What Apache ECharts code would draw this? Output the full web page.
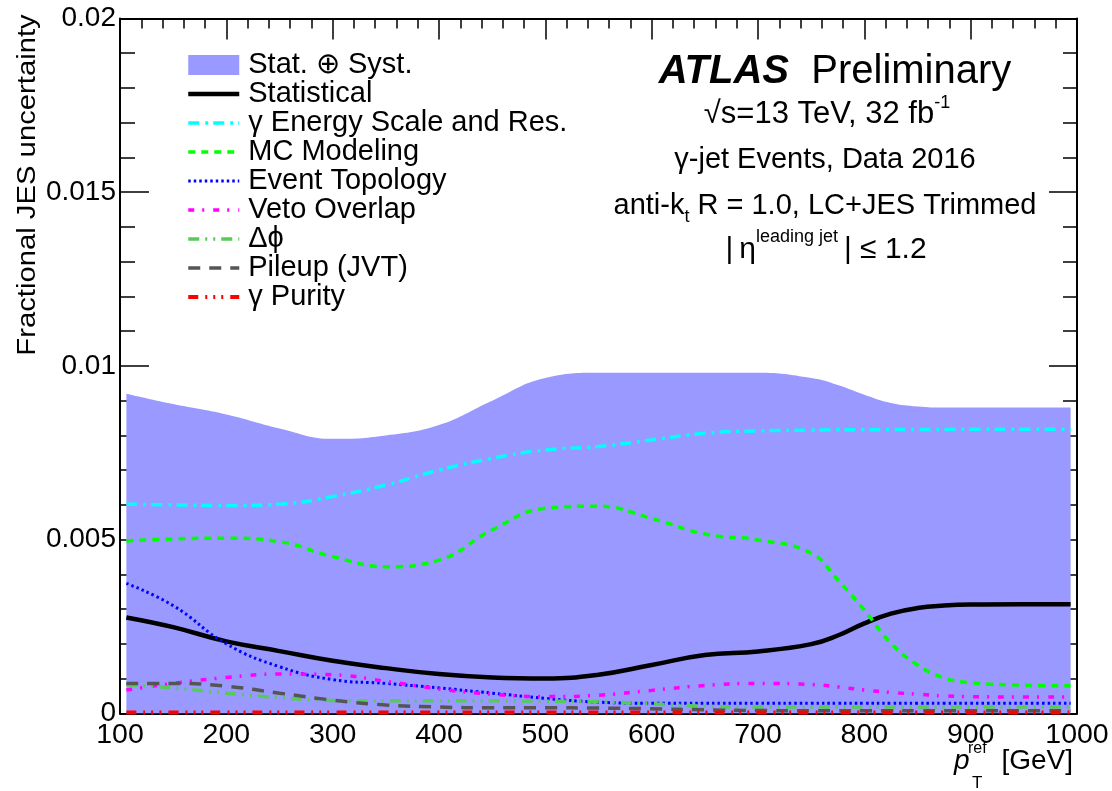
<!DOCTYPE html>
<html><head><meta charset="utf-8">
<script src="https://cdn.jsdelivr.net/npm/echarts@6/dist/echarts.min.js"></script>
<style>html,body{margin:0;padding:0;background:#fff}#c{width:1112px;height:791px}</style>
</head><body><div id="c"></div>
<script>
// ---- data ----
const ptRef = [106,150,200,250,300,350,400,450,500,550,600,650,700,750,775,800,825,850,875,900,950,994];
const statSyst = [0.0092,0.0089,0.0086,0.0082,0.0079,0.0080,0.0083,0.0090,0.00965,0.0098,0.0098,0.0098,0.0098,0.00965,0.00945,0.00917,0.00893,0.00883,0.0088,0.0088,0.0088,0.0088];
const statistical = [0.00276,0.00248,0.00207,0.00179,0.00151,0.0013,0.00113,0.00103,0.001,0.00111,0.00139,0.00168,0.00178,0.00199,0.00224,0.00259,0.00287,0.00303,0.0031,0.00313,0.00314,0.00314];
const gammaEnergy = [0.00602,0.006,0.00598,0.00602,0.00624,0.00657,0.007,0.00734,0.00758,0.00768,0.00787,0.00806,0.00813,0.00815,0.00816,0.00816,0.00817,0.00817,0.00817,0.00818,0.00818,0.00818];
const mcModeling = [0.00496,0.00502,0.00504,0.00494,0.00451,0.00422,0.00441,0.00528,0.0059,0.00596,0.00561,0.00516,0.00499,0.00461,0.00384,0.00297,0.00202,0.00139,0.00102,0.00088,0.00081,0.00079];
const eventTopology = [0.00374,0.0031,0.002,0.00134,0.00097,0.00086,0.00073,0.00058,0.00043,0.00032,0.00029,0.00029,0.00029,0.00029,0.00029,0.00029,0.00029,0.00029,0.00029,0.00029,0.00029,0.00029];
const vetoOverlap = [0.00067,0.00086,0.00103,0.00113,0.00111,0.00092,0.0007,0.00055,0.00048,0.00052,0.00066,0.0008,0.00086,0.00083,0.00076,0.00067,0.0006,0.00055,0.0005,0.00048,0.00047,0.00047];
const deltaPhi = [0.00082,0.00073,0.00058,0.00045,0.00037,0.00036,0.00036,0.00036,0.00035,0.00033,0.00027,0.0002,0.00018,0.00018,0.00018,0.00018,0.00018,0.00018,0.00018,0.00018,0.00018,0.00018];
const pileup = [0.00086,0.00086,0.00078,0.00058,0.00038,0.00024,0.00018,0.00016,0.00016,0.00015,0.00013,0.0001,0.00008,0.00007,0.00007,0.00007,0.00007,0.00007,0.00007,0.00007,0.00007,0.00007];
const gammaPurity = [0.00002,0.00002,0.00002,0.00002,0.00002,0.00002,0.00002,0.00002,0.00002,0.00002,0.00002,0.00002,0.00002,0.00002,0.00002,0.00002,0.00002,0.00002,0.00002,0.00002,0.00002,0.00002];
const xTickValues = [100,200,300,400,500,600,700,800,900,1000];
const yTickLabels = ['0','0.005','0.01','0.015','0.02'];

const bandName = 'Stat. \u2295 Syst.';
const lineDefs = [
  {name:'Statistical', data:statistical, color:'#000000', width:4.5, type:'solid'},
  {name:'\u03b3 Energy Scale and Res.', data:gammaEnergy, color:'#00ffff', width:3.5, type:[11,6,3,5]},
  {name:'MC Modeling', data:mcModeling, color:'#00ff00', width:3.5, type:[7,6]},
  {name:'Event Topology', data:eventTopology, color:'#0000ff', width:3, type:[2.5,3]},
  {name:'Veto Overlap', data:vetoOverlap, color:'#ff00ff', width:3.5, type:[6,8,2,9]},
  {name:'\u0394\u03d5', data:deltaPhi, color:'#55cc55', width:3.5, type:[11,6,2,6,2,6]},
  {name:'Pileup (JVT)', data:pileup, color:'#555555', width:3.5, type:[12,9]},
  {name:'\u03b3 Purity', data:gammaPurity, color:'#ff0000', width:4, type:[10,7,2,6,2,6,2,7]}
];
const pairs = arr => ptRef.map((x,i)=>[x, arr[i]]);
const FONT = 'Liberation Sans, Arial, Helvetica, sans-serif';
const SMOOTH = 0.45;

const series = [{
  name: bandName, type:'line', data: pairs(statSyst), smooth:SMOOTH,
  symbol:'none', lineStyle:{width:0}, areaStyle:{color:'#9999ff', opacity:1}, itemStyle:{color:'#9999ff'},
  z:1, silent:true, clip:false
}].concat(lineDefs.map((d,i)=>({
  name:d.name, type:'line', data:pairs(d.data), smooth:SMOOTH, symbol:'none',
  lineStyle:{color:d.color, width:d.width, type:d.type, cap:'butt'}, itemStyle:{color:d.color},
  z:2+i, silent:true, clip:false
})));

const axisCommon = {
  axisLine:{show:true, onZero:false, lineStyle:{color:'#000', width:2}},
  splitLine:{show:false},
  minorSplitLine:{show:false}
};

const chart = echarts.init(document.getElementById('c'), null, {renderer:'canvas'});
chart.setOption({
  animation:false,
  backgroundColor:'#fff',
  grid:{left:120, right:35, top:18.5, bottom:77.7, containLabel:false},
  xAxis:[
    Object.assign({type:'value', min:100, max:1000, interval:100, position:'bottom',
      axisTick:{inside:true, length:20, lineStyle:{color:'#000', width:1.5}},
      minorTick:{show:true, splitNumber:5, length:10, lineStyle:{color:'#000', width:1.5}},
      axisLabel:{color:'#000', fontSize:28.5, fontFamily:FONT, margin:7,
        formatter: v => xTickValues.indexOf(v) >= 0 ? String(v) : ''}}, axisCommon),
    Object.assign({type:'value', min:100, max:1000, interval:100, position:'top',
      axisTick:{inside:true, length:21, lineStyle:{color:'#000', width:1.5}},
      minorTick:{show:true, splitNumber:5, length:10, lineStyle:{color:'#000', width:1.5}},
      axisLabel:{show:false}}, axisCommon)
  ],
  yAxis:[
    Object.assign({type:'value', min:0, max:0.02, interval:0.005, position:'left',
      axisTick:{inside:true, length:29, lineStyle:{color:'#000', width:1.5}},
      minorTick:{show:true, splitNumber:5, length:15, lineStyle:{color:'#000', width:1.5}},
      axisLabel:{color:'#000', fontSize:28, fontFamily:FONT, margin:4,
        formatter: v => yTickLabels[Math.round(v/0.005)] || ''}}, axisCommon),
    Object.assign({type:'value', min:0, max:0.02, interval:0.005, position:'right',
      axisTick:{inside:true, length:28, lineStyle:{color:'#000', width:1.5}},
      minorTick:{show:true, splitNumber:5, length:14, lineStyle:{color:'#000', width:1.5}},
      axisLabel:{show:false}}, axisCommon)
  ],
  legend:{
    orient:'vertical', left:186, top:50.5, padding:0, itemWidth:51, itemHeight:20, itemGap:0,
    selectedMode:false,
    textStyle:{color:'#000', fontSize:29, fontFamily:FONT, lineHeight:29, padding:[0,0,0,4]},
    data:[{name:bandName, icon:'rect', itemStyle:{color:'#9999ff'}}].concat(lineDefs.map(d=>({
      name:d.name, itemStyle:{opacity:0},
      lineStyle:{color:d.color, width:d.width, type:d.type, cap:'butt', opacity:1}
    })))
  },
  series: series,
  graphic:[
    {type:'text', x:28, y:185, rotation:Math.PI/2, scaleX:1.17, silent:true,
      style:{text:'Fractional JES uncertainty', fontSize:25, fontFamily:FONT, fill:'#000', align:'center', verticalAlign:'middle'}},
    {type:'text', x:835, y:72, silent:true,
      style:{text:'{b|ATLAS}{n|  Preliminary}', align:'center', verticalAlign:'middle',
        rich:{b:{fontSize:40, fontWeight:'bold', fontStyle:'italic', fontFamily:FONT, fill:'#000'},
              n:{fontSize:40, fontFamily:FONT, fill:'#000'}}}},
    {type:'text', x:827, y:114, silent:true,
      style:{text:'{n|\u221as=13 TeV, 32 fb}{sup|-1}', align:'center', verticalAlign:'middle',
        rich:{n:{fontSize:31, lineHeight:40, fontFamily:FONT, fill:'#000'},
              sup:{fontSize:18, lineHeight:18, verticalAlign:'top', fontFamily:FONT, fill:'#000'}}}},
    {type:'text', x:825, y:160, silent:true,
      style:{text:'\u03b3-jet Events, Data 2016', fontSize:29, fontFamily:FONT, fill:'#000', align:'center', verticalAlign:'middle'}},
    {type:'text', x:825, y:206, silent:true,
      style:{text:'{n|anti-k}{sub|t}{n| R = 1.0, LC+JES Trimmed}', align:'center', verticalAlign:'middle',
        rich:{n:{fontSize:29, lineHeight:40, fontFamily:FONT, fill:'#000'},
              sub:{fontSize:18, lineHeight:18, verticalAlign:'bottom', fontFamily:FONT, fill:'#000'}}}},
    {type:'text', x:826, y:250, silent:true,
      style:{text:'{n||\u2009\u03b7}{sup|leading jet}{n|\u2009| \u2264 1.2}', align:'center', verticalAlign:'middle',
        rich:{n:{fontSize:30, lineHeight:44, fontFamily:FONT, fill:'#000'},
              sup:{fontSize:18, lineHeight:18, verticalAlign:'top', fontFamily:FONT, fill:'#000'}}}},
    {type:'text', x:954, y:761, silent:true,
      style:{text:'p', fontSize:28, fontStyle:'italic', fontFamily:FONT, fill:'#000', align:'left', verticalAlign:'middle'}},
    {type:'text', x:968, y:749, silent:true,
      style:{text:'ref', fontSize:16, fontFamily:FONT, fill:'#000', align:'left', verticalAlign:'middle'}},
    {type:'text', x:972, y:783, silent:true,
      style:{text:'T', fontSize:17, fontFamily:FONT, fill:'#000', align:'left', verticalAlign:'middle'}},
    {type:'text', x:1073, y:761, silent:true,
      style:{text:'[GeV]', fontSize:28, fontFamily:FONT, fill:'#000', align:'right', verticalAlign:'middle'}}
  ]
});
</script></body></html>
